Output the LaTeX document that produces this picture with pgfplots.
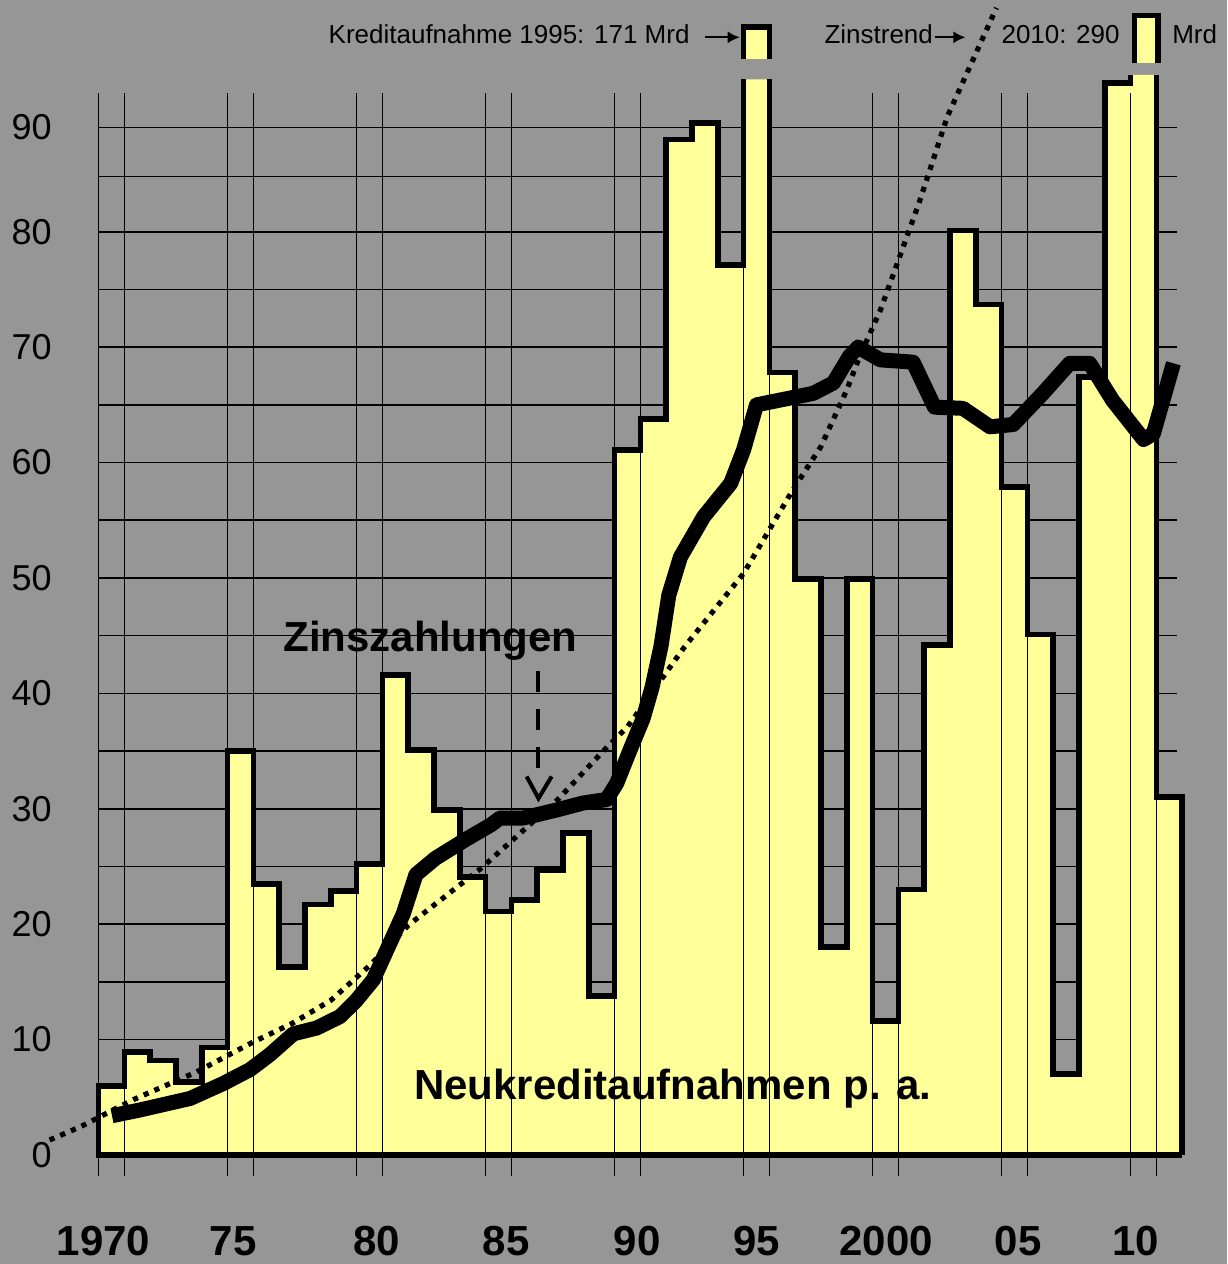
\documentclass[border=0pt]{standalone}
\usepackage{pgfplots}
\usepackage{pgfplotstable}
\pgfplotsset{compat=1.18}
\usepackage{fontspec}
\setmainfont{Liberation Sans}
\usetikzlibrary{arrows.meta}
\definecolor{bg}{RGB}{150,150,150}
\definecolor{bary}{RGB}{255,255,153}

% Neukreditaufnahmen p.a. (Mrd), stepped bars, one year wide
\pgfplotstableread{
year val
1970 0
1970 6.0
1971 8.9
1972 8.2
1973 6.3
1974 9.3
1975 35.0
1976 23.5
1977 16.3
1978 21.7
1979 22.9
1980 25.2
1981 41.6
1982 35.1
1983 29.9
1984 24.1
1985 21.1
1986 22.1
1987 24.7
1988 27.9
1989 13.8
1990 61.1
1991 63.8
1992 88.0
1993 89.4
1994 77.1
1995 93.2
1996 67.8
1997 49.9
1998 18.0
1999 49.9
2000 11.6
2001 23.0
2002 44.2
2003 80.1
2004 73.7
2005 57.9
2006 45.1
2007 7.0
2008 67.4
2009 92.9
2010 93.6
2011 31.0
2012 31.0
2012 0
}\bardata

\pgfplotsset{
  base/.style={
    at={(49.3pt,44.12pt)}, anchor=south west,
    scale only axis, width=539.22pt, height=541.23pt,
    xmin=1970, xmax=2011.8, ymin=-1.8, ymax=92,
    clip=false, no markers,
    axis line style={draw=none},
    major tick length=0pt, minor tick length=0pt,
    xtick={1970,1971,1975,1976,1980,1981,1985,1986,1990,1991,1995,1996,2000,2001,2005,2006,2010,2011},
    ytick={0,10,20,30,40,50,60,70,80,89.05},
    minor ytick={5,15,25,35,45,55,65,75,84.8},
    grid style={black, line width=0.8pt},
    minor grid style={black, line width=0.8pt},
    xticklabels={}, yticklabels={},
  },
}
\tikzset{
  yearlab/.style={font=\bfseries\fontsize{21}{25}\selectfont, anchor=base, inner sep=0pt},
  toplab/.style={font=\fontsize{13}{15}\selectfont, inner sep=0pt},
}

\begin{document}
\begin{tikzpicture}
\fill[bg] (0,0) rectangle (613.5pt,632pt);
\path[use as bounding box] (0,0) rectangle (613.5pt,632pt);

% layer 1: horizontal grid and yellow bar area
\begin{axis}[base, ymajorgrids, yminorgrids]
\addplot[fill=bary, draw=none, const plot] table[x=year, y=val] {\bardata};
\end{axis}

% layer 2: vertical grid, outlines, lines, texts
\begin{axis}[base, xmajorgrids,
  yticklabels={0,10,20,30,40,50,60,70,80,90},
  yticklabel style={font=\fontsize{18}{20}\selectfont, anchor=east, inner sep=0pt, xshift=-23.3pt}]

% bar outline (tops of 1995 and 2010 are open: broken bars)
\addplot[black, line width=2.8pt, line join=miter, unbounded coords=jump] coordinates {
(2012,0) (1970,0) (1970,6.0) (1971,6.0) (1971,8.9) (1972,8.9) (1972,8.2) (1973,8.2) (1973,6.3)
(1974,6.3) (1974,9.3) (1975,9.3) (1975,35.0) (1976,35.0) (1976,23.5) (1977,23.5) (1977,16.3)
(1978,16.3) (1978,21.7) (1979,21.7) (1979,22.9) (1980,22.9) (1980,25.2) (1981,25.2) (1981,41.6)
(1982,41.6) (1982,35.1) (1983,35.1) (1983,29.9) (1984,29.9) (1984,24.1) (1985,24.1) (1985,21.1)
(1986,21.1) (1986,22.1) (1987,22.1) (1987,24.7) (1988,24.7) (1988,27.9) (1989,27.9) (1989,13.8)
(1990,13.8) (1990,61.1) (1991,61.1) (1991,63.8) (1992,63.8) (1992,88.0) (1993,88.0) (1993,89.4)
(1994,89.4) (1994,77.1) (1995,77.1) (1995,93.2) (1995.5,nan) (1996,93.2) (1996,67.8) (1997,67.8)
(1997,49.9) (1998,49.9) (1998,18.0) (1999,18.0) (1999,49.9) (2000,49.9) (2000,11.6) (2001,11.6)
(2001,23.0) (2002,23.0) (2002,44.2) (2003,44.2) (2003,80.1) (2004,80.1) (2004,73.7) (2005,73.7)
(2005,57.9) (2006,57.9) (2006,45.1) (2007,45.1) (2007,7.0) (2008,7.0) (2008,67.4) (2009,67.4)
(2009,92.9) (2010,92.9) (2010,93.6) (2010.5,nan) (2011,93.6) (2011,31.0) (2012,31.0) (2012,0)
};

% broken-bar caps at the top
\addplot[fill=bary, draw=none] coordinates {(1995,95.0) (1995,97.75) (1996,97.75) (1996,95.0)};
\addplot[black, line width=2.8pt, line join=miter] coordinates {(1995,95.0) (1995,97.75) (1996,97.75) (1996,95.0)};
\addplot[fill=bary, draw=none] coordinates {(2010.15,94.6) (2010.15,98.75) (2011.05,98.75) (2011.05,94.6)};
\addplot[black, line width=2.8pt, line join=miter] coordinates {(2010.15,94.6) (2010.15,98.75) (2011.05,98.75) (2011.05,94.6)};

% Zinstrend (dotted)
\addplot[black, line width=2.6pt, dash pattern=on 2.6pt off 3.2pt] coordinates {
(1968.1,1.3) (1969.3,2.45) (1970.3,3.6) (1971.35,4.8) (1973.8,7.2) (1976.0,9.8) (1977.5,11.4)
(1979.0,13.4) (1980.5,16.4) (1982.0,19.9) (1984.8,24.8) (1986.2,27.6) (1987.8,30.8) (1989.6,35.1)
(1990.5,37.1) (1992.7,44.0) (1995.0,50.4) (1996.9,57.6) (1998.0,61.4) (1999.0,66.3) (1999.5,69.2)
(2000.3,73.2) (2001.8,82.5) (2002.9,90.0) (2004.8,99.4)
};

% Zinszahlungen (thick)
\addplot[black, line width=7.5pt, line join=round] coordinates {
(1970.52,3.4) (1971.6,3.9) (1973.55,4.9) (1974.84,6.2) (1975.87,7.4) (1976.64,8.7) (1977.55,10.5)
(1978.45,11.0) (1979.36,12.0) (1979.99,13.4) (1980.65,15.2) (1981.81,20.9) (1982.3,24.3)
(1983.05,25.7) (1984.2,27.3) (1985.2,28.6) (1985.56,29.2) (1986.46,29.2) (1987.76,29.9)
(1988.78,30.5) (1989.69,30.8) (1990.08,32.2) (1990.6,35.1) (1991.1,37.8) (1991.45,40.5)
(1991.8,44.1) (1992.1,48.5) (1992.55,51.8) (1993.45,55.3) (1994.5,58.2) (1995.0,61.1)
(1995.5,65.0) (1997.7,66.0) (1998.48,66.9) (1999.1,69.2) (1999.44,70.0) (2000.3,68.9)
(2001.57,68.7) (2002.4,64.8) (2003.5,64.7) (2004.55,63.1) (2005.45,63.3) (2006.6,66.0)
(2007.64,68.6) (2008.41,68.6) (2009.3,65.4) (2010.5,62.0) (2010.88,62.5) (2011.66,68.6)
};

% dashed arrow to Zinszahlungen
\draw[line width=2pt, dash pattern=on 10.5pt off 8.5pt] (axis cs:1987.05,41.9) -- (axis cs:1987.05,33.1);
\draw[line width=2pt, line join=miter] (axis cs:1986.59,32.8) -- (axis cs:1987.05,30.9) -- (axis cs:1987.56,32.8);

% texts
\node[yearlab] at (axis cs:1982.86,43.6) {Zinszahlungen};
\node[yearlab] at (axis cs:1992.26,4.85) {Neukreditaufnahmen p. a.};

\node[toplab, anchor=base east] at (axis cs:1992.92,96.33) {Kreditaufnahme 1995: 171 Mrd};
\draw[line width=1pt, -{Latex[length=6pt,width=6pt]}] (axis cs:1993.5,96.85) -- (axis cs:1994.85,96.85);
\node[toplab, anchor=base west] at (axis cs:1998.12,96.33) {Zinstrend};
\draw[line width=1pt, -{Latex[length=6pt,width=6pt]}] (axis cs:2002.4,96.85) -- (axis cs:2003.6,96.85);
\node[toplab, anchor=base east] at (axis cs:2009.59,96.33) {2010: 290};
\node[toplab, anchor=base west] at (axis cs:2011.6,96.33) {Mrd};

% year labels
\node[yearlab] at (axis cs:1970.19,-8.7) {1970};
\node[yearlab] at (axis cs:1975.22,-8.7) {75};
\node[yearlab] at (axis cs:1980.77,-8.7) {80};
\node[yearlab] at (axis cs:1985.8,-8.7) {85};
\node[yearlab] at (axis cs:1990.87,-8.7) {90};
\node[yearlab] at (axis cs:1995.51,-8.7) {95};
\node[yearlab] at (axis cs:2000.52,-8.7) {2000};
\node[yearlab] at (axis cs:2005.64,-8.7) {05};
\node[yearlab] at (axis cs:2010.19,-8.7) {10};
\end{axis}
\end{tikzpicture}
\end{document}
